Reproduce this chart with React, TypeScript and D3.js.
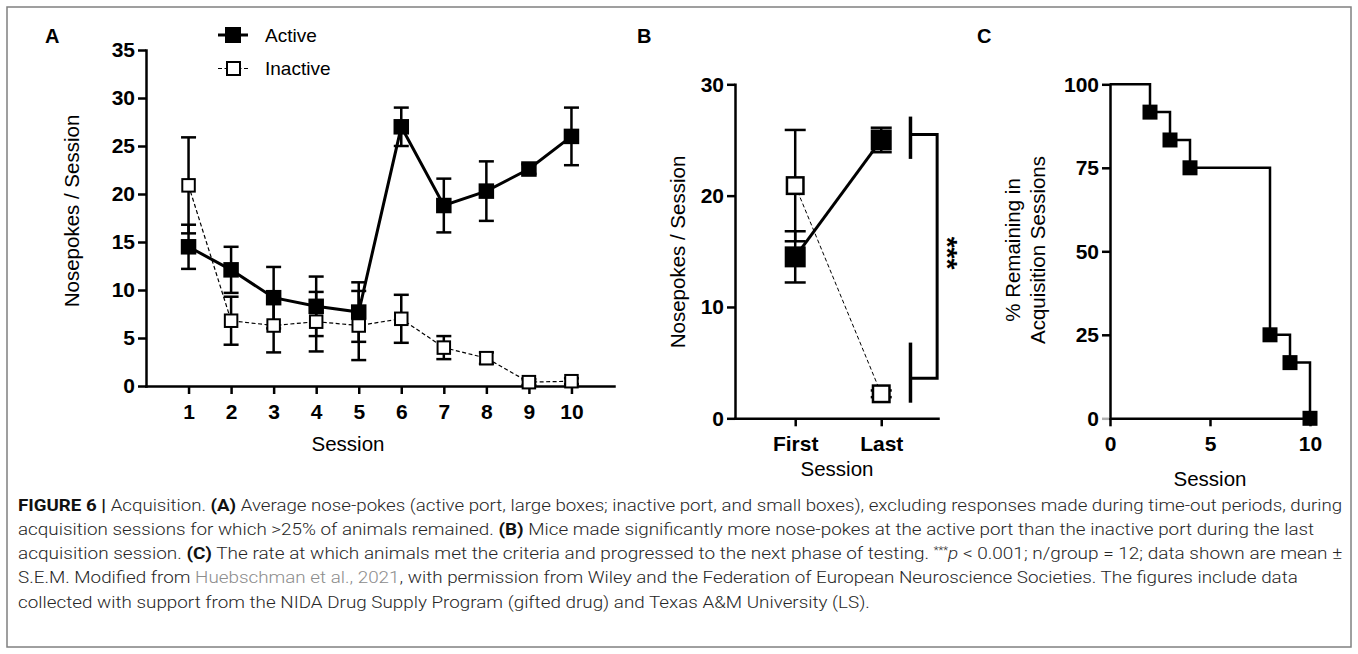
import { useEffect, useRef } from 'react';
import * as d3 from 'd3';

// Panel A: nose-pokes per session
const sessions = [1, 2, 3, 4, 5, 6, 7, 8, 9, 10];
const activeMean = [14.5, 12.1, 9.2, 8.3, 7.7, 27.0, 18.8, 20.3, 22.6, 26.0];
const activeSem = [2.3, 2.4, 3.2, 3.1, 3.1, 2.0, 2.8, 3.1, 0.5, 3.0];
const inactiveMean = [20.9, 6.8, 6.3, 6.7, 6.3, 7.0, 4.0, 2.9, 0.4, 0.5];
const inactiveSem = [5.0, 2.5, 2.8, 3.1, 3.6, 2.5, 1.2, 0.6, 0.3, 0.3];
const aYTicks = [0, 5, 10, 15, 20, 25, 30, 35];

// Panel B: first vs last session
const phases = ['First', 'Last'];
const bActiveMean = [14.5, 25.0];
const bActiveSem = [2.3, 1.1];
const bInactiveMean = [20.9, 2.2];
const bInactiveSem = [5.0, 0.3];
const bYTicks = [0, 10, 20, 30];
// bracket: short bars (y ranges) and arm levels
const sigBars = [[27.1, 23.3], [6.8, 1.4]];
const sigArms = [25.5, 3.6];

// Panel C: % remaining in acquisition
const cSessions = [0, 2, 3, 4, 8, 9, 10];
const cPercent = [100, 91.67, 83.33, 75, 25, 16.67, 0];
const cXTicks = [0, 5, 10];
const cYTicks = [0, 25, 50, 75, 100];

// caption
const captionLines = [
  [
    { t: 'FIGURE 6 | ', b: true },
    { t: 'Acquisition. ' },
    { t: '(A)', b: true },
    { t: ' Average nose-pokes (active port, large boxes; inactive port, and small boxes), excluding responses made during time-out periods, during' },
  ],
  [
    { t: 'acquisition sessions for which >25% of animals remained. ' },
    { t: '(B)', b: true },
    { t: ' Mice made significantly more nose-pokes at the active port than the inactive port during the last' },
  ],
  [
    { t: 'acquisition session. ' },
    { t: '(C)', b: true },
    { t: ' The rate at which animals met the criteria and progressed to the next phase of testing. ' },
    { t: '***', sup: true },
    { t: 'p', i: true },
    { t: ' < 0.001; n/group = 12; data shown are mean ±' },
  ],
  [
    { t: 'S.E.M. Modified from ' },
    { t: 'Huebschman et al., 2021', c: '#8c8c8c' },
    { t: ', with permission from Wiley and the Federation of European Neuroscience Societies. The figures include data' },
  ],
  [
    { t: 'collected with support from the NIDA Drug Supply Program (gifted drug) and Texas A&M University (LS).' },
  ],
];

const FONT = "'Liberation Sans', Arial, Helvetica, sans-serif";
const CAP_FONT = "Roboto, 'Liberation Sans', Arial, sans-serif";

function styleAxis(g: any, size: number) {
  g.attr('font-size', null).attr('font-family', null);
  g.select('.domain').attr('stroke', '#000').attr('stroke-width', 2.5).attr('stroke-linecap', 'square');
  g.selectAll('.tick line').attr('stroke', '#000').attr('stroke-width', 2.5);
  g.selectAll('.tick text')
    .attr('fill', '#000')
    .attr('font-size', size)
    .attr('font-weight', 'bold')
    .attr('font-family', FONT);
}

function errorBars(g: any, xs: number[], means: number[], sems: number[], x: any, y: any, half: number) {
  xs.forEach((xv, i) => {
    const px = x(xv);
    const lo = y(means[i] - sems[i]);
    const hi = y(means[i] + sems[i]);
    g.append('line').attr('x1', px).attr('x2', px).attr('y1', lo).attr('y2', hi)
      .attr('stroke', '#000').attr('stroke-width', 2.5);
    [lo, hi].forEach(py => {
      g.append('line').attr('x1', px - half).attr('x2', px + half).attr('y1', py).attr('y2', py)
        .attr('stroke', '#000').attr('stroke-width', 2.5);
    });
  });
}

function squares(g: any, xs: number[], ys: number[], x: any, y: any, size: number, filled: boolean, sw = 2) {
  g.selectAll(null)
    .data(xs.map((xv, i) => [xv, ys[i]]))
    .enter()
    .append('rect')
    .attr('x', (d: number[]) => x(d[0]) - size / 2)
    .attr('y', (d: number[]) => y(d[1]) - size / 2)
    .attr('width', size)
    .attr('height', size)
    .attr('fill', filled ? '#000' : '#fff')
    .attr('stroke', filled ? 'none' : '#000')
    .attr('stroke-width', filled ? 0 : sw);
}

export default function App() {
  const svgRef = useRef<SVGSVGElement>(null);

  useEffect(() => {
    const W = 1358;
    const H = 654;
    const svg = d3.select(svgRef.current);
    svg.selectAll('*').remove();
    svg.attr('width', W).attr('height', H);

    svg.append('rect').attr('width', W).attr('height', H).attr('fill', '#fff');
    svg.append('rect')
      .attr('x', 7).attr('y', 7).attr('width', W - 14).attr('height', H - 14)
      .attr('fill', 'none').attr('stroke', '#808080').attr('stroke-width', 1.5);

    const label = (txt: string, x: number, y: number) =>
      svg.append('text').attr('x', x).attr('y', y).attr('font-family', FONT)
        .attr('font-size', 20).attr('font-weight', 'bold').text(txt);
    label('A', 45, 43);
    label('B', 637, 43);
    label('C', 977, 43);

    const TICK = 21;
    const TITLE = 20.5;

    // ---------- Panel A ----------
    const ax = d3.scaleLinear().domain([0, 11]).range([146, 614]);
    const ay = d3.scaleLinear().domain([0, 35]).range([386, 50]);
    const gA = svg.append('g');

    gA.append('g').attr('transform', 'translate(146,0)')
      .call(d3.axisLeft(ay).tickValues(aYTicks).tickSize(8).tickPadding(3).tickSizeOuter(0))
      .call((g: any) => styleAxis(g, TICK));
    gA.append('g').attr('transform', 'translate(0,386)')
      .call(d3.axisBottom(ax).tickValues(sessions).tickFormat(d3.format('d')).tickSize(8).tickPadding(10).tickSizeOuter(0))
      .call((g: any) => styleAxis(g, TICK));

    const lineA = (vals: number[]) =>
      d3.line<number>().x((_, i) => ax(sessions[i])).y(d => ay(d))(vals);

    gA.append('path').attr('d', lineA(inactiveMean)).attr('fill', 'none')
      .attr('stroke', '#000').attr('stroke-width', 1.2).attr('stroke-dasharray', '4,2.5');
    gA.append('path').attr('d', lineA(activeMean)).attr('fill', 'none')
      .attr('stroke', '#000').attr('stroke-width', 3);

    errorBars(gA, sessions, activeMean, activeSem, ax, ay, 7.5);
    errorBars(gA, sessions, inactiveMean, inactiveSem, ax, ay, 7.5);
    squares(gA, sessions, inactiveMean, ax, ay, 12.5, false, 2);
    squares(gA, sessions, activeMean, ax, ay, 15.5, true);

    // legend
    const lg = svg.append('g');
    lg.append('line').attr('x1', 218).attr('x2', 248).attr('y1', 35).attr('y2', 35)
      .attr('stroke', '#000').attr('stroke-width', 3);
    lg.append('rect').attr('x', 225).attr('y', 27).attr('width', 16).attr('height', 16).attr('fill', '#000');
    lg.append('line').attr('x1', 218).attr('x2', 248).attr('y1', 68.5).attr('y2', 68.5)
      .attr('stroke', '#000').attr('stroke-width', 1.2).attr('stroke-dasharray', '4,2.5');
    lg.append('rect').attr('x', 227).attr('y', 62).attr('width', 13).attr('height', 13)
      .attr('fill', '#fff').attr('stroke', '#000').attr('stroke-width', 2);
    lg.append('text').attr('x', 265).attr('y', 41.5).attr('font-family', FONT).attr('font-size', 19).text('Active');
    lg.append('text').attr('x', 265).attr('y', 75).attr('font-family', FONT).attr('font-size', 19).text('Inactive');

    gA.append('text').attr('x', 348).attr('y', 451).attr('text-anchor', 'middle')
      .attr('font-family', FONT).attr('font-size', TITLE).text('Session');
    gA.append('text').attr('transform', 'translate(79,211) rotate(-90)').attr('text-anchor', 'middle')
      .attr('font-family', FONT).attr('font-size', TITLE).text('Nosepokes / Session');

    // ---------- Panel B ----------
    const bx = d3.scaleLinear().domain([-0.7, 1.66]).range([735, 938]);
    const by = d3.scaleLinear().domain([0, 30]).range([418.3, 84.3]);
    const idx = phases.map((_, i) => i);
    const gB = svg.append('g');

    gB.append('g').attr('transform', 'translate(735,0)')
      .call(d3.axisLeft(by).tickValues(bYTicks).tickSize(8).tickPadding(3).tickSizeOuter(0))
      .call((g: any) => styleAxis(g, TICK));
    gB.append('g').attr('transform', 'translate(0,418.3)')
      .call(d3.axisBottom(bx).tickValues(idx).tickFormat((d: any) => phases[d]).tickSize(8).tickPadding(10).tickSizeOuter(0))
      .call((g: any) => styleAxis(g, TICK));

    const lineB = (vals: number[]) =>
      d3.line<number>().x((_, i) => bx(idx[i])).y(d => by(d))(vals);
    gB.append('path').attr('d', lineB(bInactiveMean)).attr('fill', 'none')
      .attr('stroke', '#000').attr('stroke-width', 1).attr('stroke-dasharray', '4,2.5');
    gB.append('path').attr('d', lineB(bActiveMean)).attr('fill', 'none')
      .attr('stroke', '#000').attr('stroke-width', 3);

    errorBars(gB, idx, bActiveMean, bActiveSem, bx, by, 10.5);
    errorBars(gB, idx, bInactiveMean, bInactiveSem, bx, by, 10.5);
    squares(gB, idx, bInactiveMean, bx, by, 16.5, false, 2.5);
    squares(gB, idx, bActiveMean, bx, by, 21, true);

    // significance bracket
    const barX = bx(1.34);
    const armX = bx(1.65);
    sigBars.forEach(r => {
      gB.append('line').attr('x1', barX).attr('x2', barX).attr('y1', by(r[0])).attr('y2', by(r[1]))
        .attr('stroke', '#000').attr('stroke-width', 3.5);
    });
    gB.append('path')
      .attr('d', `M${barX},${by(sigArms[0])}H${armX}V${by(sigArms[1])}H${barX}`)
      .attr('fill', 'none').attr('stroke', '#000').attr('stroke-width', 3);
    gB.append('text').attr('transform', `translate(${armX + 1},${by(14.85)}) rotate(90)`)
      .attr('text-anchor', 'middle').attr('font-family', FONT).attr('font-size', 28).attr('font-weight', 'bold')
      .text('***');

    gB.append('text').attr('x', 837).attr('y', 476).attr('text-anchor', 'middle')
      .attr('font-family', FONT).attr('font-size', TITLE).text('Session');
    gB.append('text').attr('transform', 'translate(685,252) rotate(-90)').attr('text-anchor', 'middle')
      .attr('font-family', FONT).attr('font-size', TITLE).text('Nosepokes / Session');

    // ---------- Panel C ----------
    const cx = d3.scaleLinear().domain([0, 10]).range([1110, 1310]);
    const cy = d3.scaleLinear().domain([0, 100]).range([418.3, 84.3]);
    const gC = svg.append('g');

    gC.append('g').attr('transform', 'translate(1110,0)')
      .call(d3.axisLeft(cy).tickValues(cYTicks).tickSize(8).tickPadding(3).tickSizeOuter(0))
      .call((g: any) => styleAxis(g, TICK))
      .call((g: any) => g.selectAll('.tick line').filter((d: number) => d === 0).attr('stroke', '#b0b0b0'));
    gC.append('g').attr('transform', 'translate(0,418.3)')
      .call(d3.axisBottom(cx).tickValues(cXTicks).tickSize(8).tickPadding(10).tickSizeOuter(0))
      .call((g: any) => styleAxis(g, TICK));

    const stepLine = d3.line<number>().x((_, i) => cx(cSessions[i])).y(d => cy(d)).curve(d3.curveStepAfter);
    gC.append('path').attr('d', stepLine(cPercent)).attr('fill', 'none')
      .attr('stroke', '#000').attr('stroke-width', 2.5);
    squares(gC, cSessions.slice(1), cPercent.slice(1), cx, cy, 15, true);

    gC.append('text').attr('x', 1210).attr('y', 486).attr('text-anchor', 'middle')
      .attr('font-family', FONT).attr('font-size', TITLE).text('Session');
    const cyl = gC.append('text').attr('transform', 'translate(1020,250) rotate(-90)').attr('text-anchor', 'middle')
      .attr('font-family', FONT).attr('font-size', TITLE);
    cyl.append('tspan').attr('x', 0).attr('y', 0).text('% Remaining in');
    cyl.append('tspan').attr('x', 0).attr('y', 25).text('Acquisition Sessions');

    // ---------- Caption ----------
    const capBase = [511, 535, 559, 583, 607.5];
    const capNodes: any[] = [];
    const widths: number[] = [];
    captionLines.forEach((segs) => {
      const t = svg.append('text')
        .attr('x', 0).attr('y', 0)
        .attr('font-family', CAP_FONT).attr('font-size', 17).attr('font-weight', 300)
        .attr('fill', '#262626');
      segs.forEach((s: any) => {
        const ts = t.append('tspan').text(s.t);
        if (s.b) ts.attr('font-weight', 700).attr('fill', '#111');
        if (s.i) ts.attr('font-style', 'italic');
        if (s.c) ts.attr('fill', s.c);
        if (s.sup) ts.attr('font-size', 10).attr('baseline-shift', '5');
      });
      capNodes.push(t);
      widths.push((t.node() as SVGTextElement).getComputedTextLength() || 1300);
    });
    // lines 1 and 3 run to the right edge; the rest share the average squeeze
    const k1 = 1325 / widths[0];
    const k3 = 1325 / widths[2];
    const kAvg = (k1 + k3) / 2;
    capNodes.forEach((t, li) => {
      const k = li === 0 ? k1 : li === 2 ? k3 : kAvg;
      t.attr('transform', `translate(18,${capBase[li]}) scale(${k},1)`);
    });
  }, []);

  return (
    <div style={{ position: 'absolute', left: 0, top: 0 }}>
      <svg ref={svgRef} style={{ display: 'block' }}></svg>
    </div>
  );
}
